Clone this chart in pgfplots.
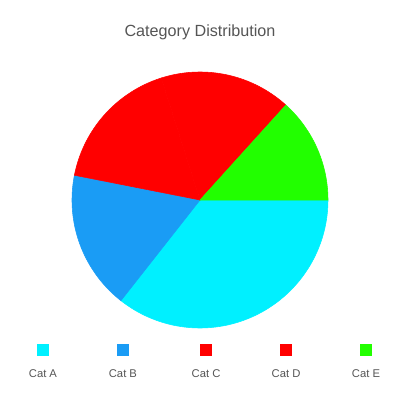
\documentclass[border=0pt]{standalone}
\usepackage{pgfplots}
\pgfplotsset{compat=1.18}
\usepackage{fontspec}
\setmainfont{Liberation Sans}
\definecolor{c1}{HTML}{00F0FF}
\definecolor{c2}{HTML}{1A9CF5}
\definecolor{c3}{HTML}{FF0000}
\definecolor{c4}{HTML}{FF0000}
\definecolor{c5}{HTML}{22FF00}
\definecolor{tgray}{HTML}{555555}
\begin{document}
\begin{tikzpicture}
% slice values (percent), drawn clockwise from 3 o'clock
\pgfmathsetmacro{\vA}{35.6}
\pgfmathsetmacro{\vB}{17.5}
\pgfmathsetmacro{\vC}{17.0}
\pgfmathsetmacro{\vD}{16.6}
\pgfmathsetmacro{\vE}{13.3}
\pgfmathsetmacro{\aA}{0}
\pgfmathsetmacro{\aB}{\aA-3.6*\vA}
\pgfmathsetmacro{\aC}{\aB-3.6*\vB}
\pgfmathsetmacro{\aD}{\aC-3.6*\vC}
\pgfmathsetmacro{\aE}{\aD-3.6*\vD}
\pgfmathsetmacro{\aF}{\aE-3.6*\vE}
\begin{axis}[width=10cm,height=10cm,scale only axis,hide axis,
  xmin=-1.5625,xmax=1.5625,ymin=-1.5625,ymax=1.5625,clip=false]
\path (rel axis cs:0,0) rectangle (rel axis cs:1,1);
\addplot[fill=c1,draw=c1,line width=0.4pt,domain=\aB:\aA,samples=80,variable=\t] ({cos(\t)},{sin(\t)}) -- (axis cs:0,0) -- cycle;
\addplot[fill=c2,draw=c2,line width=0.4pt,domain=\aC:\aB,samples=60,variable=\t] ({cos(\t)},{sin(\t)}) -- (axis cs:0,0) -- cycle;
\addplot[fill=c3,draw=c3,line width=0.4pt,domain=\aD:\aC,samples=60,variable=\t] ({cos(\t)},{sin(\t)}) -- (axis cs:0,0) -- cycle;
\addplot[fill=c4,draw=c4,line width=0.4pt,domain=\aE:\aD,samples=60,variable=\t] ({cos(\t)},{sin(\t)}) -- (axis cs:0,0) -- cycle;
\addplot[fill=c5,draw=c5,line width=0.4pt,domain=\aF:\aE,samples=60,variable=\t] ({cos(\t)},{sin(\t)}) -- (axis cs:0,0) -- cycle;
% legend markers
\addplot[only marks,mark=square*,mark size=4pt,c1] coordinates {(-1.227,-1.172)};
\addplot[only marks,mark=square*,mark size=4pt,c2] coordinates {(-0.602,-1.172)};
\addplot[only marks,mark=square*,mark size=4pt,c3] coordinates {(0.047,-1.172)};
\addplot[only marks,mark=square*,mark size=4pt,c4] coordinates {(0.672,-1.172)};
\addplot[only marks,mark=square*,mark size=4pt,c5] coordinates {(1.297,-1.172)};
\node[text=tgray,font=\footnotesize] at (axis cs:-1.227,-1.36) {Cat A};
\node[text=tgray,font=\footnotesize] at (axis cs:-0.602,-1.36) {Cat B};
\node[text=tgray,font=\footnotesize] at (axis cs:0.047,-1.36) {Cat C};
\node[text=tgray,font=\footnotesize] at (axis cs:0.672,-1.36) {Cat D};
\node[text=tgray,font=\footnotesize] at (axis cs:1.297,-1.36) {Cat E};
\node[text=tgray,font=\fontsize{11.5}{14}\selectfont] at (axis cs:0,1.31) {Category Distribution};
\end{axis}
\end{tikzpicture}
\end{document}
